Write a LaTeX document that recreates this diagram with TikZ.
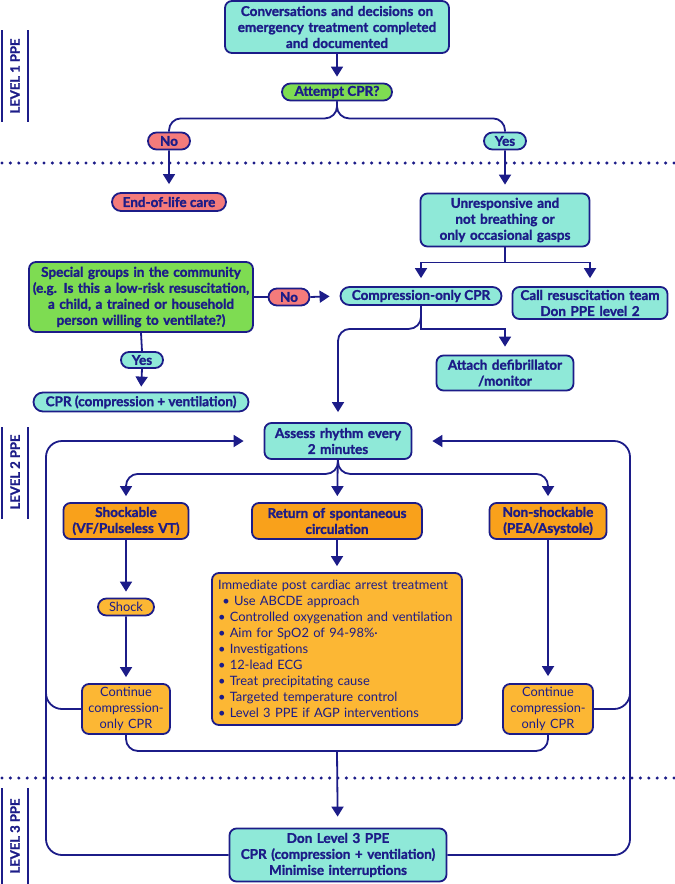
\documentclass[tikz,border=0pt]{standalone}
\usepackage{fontspec}
\setmainfont{Lato}[BoldFeatures={FakeBold=1.4}]
\newfontfamily\lvlfont{Lato}[UprightFont=*-Bold, UprightFeatures={FakeBold=3}]
\usetikzlibrary{arrows.meta,shapes.misc,calc}
\definecolor{navy}{HTML}{1C1C88}
\definecolor{aqua}{HTML}{8FE9D8}
\definecolor{lgreen}{HTML}{7EDC52}
\definecolor{salmon}{HTML}{F47B7B}
\definecolor{dorange}{HTML}{F9A11B}
\definecolor{lorange}{HTML}{FCB734}
\begin{document}
\begin{tikzpicture}[x=1pt,y=-1pt,
  every node/.style={text=navy},
  bx/.style={draw=navy, line width=1.8pt, rounded corners=7pt, align=center, inner sep=1pt,
    font=\fontsize{13.5}{16}\selectfont\bfseries},
  pl/.style={draw=navy, line width=1.8pt, rounded rectangle, align=center, inner sep=1pt,
    font=\fontsize{13.5}{16}\selectfont\bfseries},
  conn/.style={draw=navy, line width=1.8pt, rounded corners=12pt},
  arr/.style={conn, -{Triangle[width=12pt,length=10pt]}, shorten >=6pt},
  sharp/.style={rounded corners=0pt},
  dotline/.style={draw=navy, line width=3.4pt, line cap=round, dash pattern=on 0pt off 8.4pt},
  lvl/.style={rotate=90, font=\fontsize{13}{13}\selectfont\bfseries, inner sep=0pt},
  lvlline/.style={draw=navy, line width=1.8pt}
]
\useasboundingbox (0,0) rectangle (675,884);

% level labels
\node[lvl] (lv1) at (15,76) {LEVEL 1 PPE};
\draw[lvlline] (2,30) -- (2,122) (28,30) -- (28,122);
\node[lvl] (lv2) at (15,472) {LEVEL 2 PPE};
\draw[lvlline] (2,427) -- (2,519) (28,427) -- (28,519);
\node[lvl] (lv3) at (15,836) {LEVEL 3 PPE};
\draw[lvlline] (2,788) -- (2,884) (28,788) -- (28,884);

% dotted separators
\draw[dotline] (2,163) -- (675,163);
\draw[dotline] (2,778) -- (675,778);

% nodes
\node[bx, fill=aqua, minimum width=224pt, minimum height=52pt, text width=220pt] (conv) at (337,27)
  {Conversations and decisions on\\ emergency treatment completed\\ and documented};
\node[pl, fill=lgreen, minimum width=112pt, minimum height=17pt] (attempt) at (337,92) {Attempt CPR?};
\node[pl, fill=salmon, minimum width=44pt, minimum height=17pt] (no1) at (169,141) {No};
\node[pl, fill=aqua, minimum width=44pt, minimum height=17pt] (yes1) at (505,141) {Yes};
\node[pl, fill=salmon, minimum width=116pt, minimum height=18pt] (eol) at (169,202) {End-of-life care};
\node[bx, fill=aqua, minimum width=169pt, minimum height=53pt, text width=165pt] (unresp) at (505,220)
  {Unresponsive and\\ not breathing or\\ only occasional gasps};
\node[pl, fill=aqua, minimum width=163pt, minimum height=18pt] (comp) at (421,296) {Compression-only CPR};
\node[bx, fill=aqua, minimum width=155pt, minimum height=32pt, text width=151pt] (call) at (590,303)
  {Call resuscitation team\\ Don PPE level 2};
\node[bx, fill=lgreen, minimum width=224pt, minimum height=70pt, text width=222pt] (special) at (141,297)
  {Special groups in the community\\ (e.g. Is this a low-risk resuscitation,\\ a child, a trained or household\\ person willing to ventilate?)};
\node[pl, fill=salmon, minimum width=43pt, minimum height=17pt] (no2) at (289,297) {No};
\node[pl, fill=aqua, minimum width=44pt, minimum height=16pt] (yes2) at (142,360) {Yes};
\node[pl, fill=aqua, minimum width=217pt, minimum height=19pt] (cpr) at (141,402) {CPR (compression + ventilation)};
\node[bx, fill=aqua, minimum width=137pt, minimum height=35pt, text width=133pt] (attach) at (505,373)
  {Attach defibrillator\\ /monitor};
\node[bx, fill=aqua, minimum width=147pt, minimum height=36pt, text width=143pt] (assess) at (338,441)
  {Assess rhythm every\\ 2 minutes};
\node[bx, fill=dorange, minimum width=125pt, minimum height=36pt, text width=121pt] (shk) at (126,521)
  {Shockable\\ (VF/Pulseless VT)};
\node[bx, fill=dorange, minimum width=170pt, minimum height=36pt, text width=166pt] (rosc) at (337,521)
  {Return of spontaneous\\ circulation};
\node[bx, fill=dorange, minimum width=117pt, minimum height=36pt, text width=113pt] (nonshk) at (548,521)
  {Non-shockable\\ (PEA/Asystole)};
\node[pl, fill=lorange, minimum width=58pt, minimum height=17pt, font=\fontsize{12.8}{16}\selectfont] (shock) at (126,607) {Shock};
\node[bx, fill=lorange, minimum width=250pt, minimum height=152pt, text width=238pt, align=left,
  font=\fontsize{12.9}{16}\selectfont] (imm) at (337,649)
  {Immediate post cardiac arrest treatment\\
   \ \textbullet\ Use ABCDE approach\\
   \textbullet\ Controlled oxygenation and ventilation\\
   \textbullet\ Aim for SpO2 of 94-98\%·\\
   \textbullet\ Investigations\\
   \textbullet\ 12-lead ECG\\
   \textbullet\ Treat precipitating cause\\
   \textbullet\ Targeted temperature control\\
   \textbullet\ Level 3 PPE if AGP interventions};
\node[bx, fill=lorange, minimum width=88pt, minimum height=50pt, text width=86pt,
  font=\fontsize{12.8}{16}\selectfont] (contL) at (126,709) {Continue\\ compression-\\ only CPR};
\node[bx, fill=lorange, minimum width=90pt, minimum height=50pt, text width=86pt,
  font=\fontsize{12.8}{16}\selectfont] (contR) at (548,709) {Continue\\ compression-\\ only CPR};
\node[bx, fill=aqua, minimum width=217pt, minimum height=53pt, text width=213pt] (don) at (338,855)
  {Don Level 3 PPE\\ CPR (compression + ventilation)\\ Minimise interruptions};

\coordinate (m) at (337,751);
\coordinate (lc) at (46,600);
\coordinate (rc) at (630,600);

% connectors
\draw[arr] (conv) -- (attempt);
\draw[conn] (attempt.south) -- ++(0,17) -| (no1.north);
\draw[conn] (attempt.south) -- ++(0,17) -| (yes1.north);
\draw[arr, shorten >=8pt] (no1) -- (eol);
\draw[arr, shorten >=8pt] (yes1) -- (unresp);
\draw[arr, sharp, shorten >=8pt] (unresp.south) -- ++(0,15) -| (comp.north);
\draw[arr, sharp, shorten >=8pt] (unresp.south) -- ++(0,15) -| (call.north);
\draw[conn] (special.east) -- (no2.west);
\draw[arr, shorten >=10pt] (no2.east) -- (comp.west);
\draw[conn] (special.south) -- (yes2.north);
\draw[arr, shorten >=5pt] (yes2.south) -- (cpr.north);
\draw[arr, sharp, shorten >=8pt] (comp.south) -- ++(0,23) -| (attach.north);
\draw[arr, shorten >=10pt] (comp.south) -- ++(0,23) -| (assess.north);
\draw[arr] (assess.south) -- ++(0,14) -| (shk.north);
\draw[arr] (assess.south) -- ++(0,14) -| (nonshk.north);
\draw[arr] (assess) -- (rosc);
\draw[arr] (shk) -- (shock);
\draw[arr] (shock) -- (contL);
\draw[arr] (rosc) -- (imm);
\draw[arr, shorten >=7pt] (nonshk) -- (contR);
\draw[conn] (contL.south) |- (m);
\draw[conn] (contR.south) |- (m);
\draw[arr, shorten >=11pt] (m) -- (don);
\draw[arr, shorten >=20pt, rounded corners=16pt] (don.west) -| (lc) |- (assess.west);
\draw[conn, rounded corners=16pt] (contL.west) -| (lc);
\draw[arr, shorten >=20pt, rounded corners=16pt] (don.east) -| (rc) |- (assess.east);
\draw[conn, rounded corners=16pt] (contR.east) -| (rc);
\end{tikzpicture}
\end{document}
